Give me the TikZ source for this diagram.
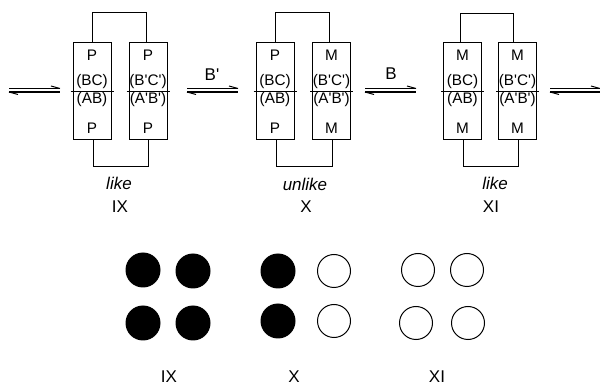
\documentclass[tikz,border=0pt]{standalone}
\usepackage{fontspec}
\setmainfont{Liberation Sans}[Ligatures=TeXOff]
\begin{document}
\begin{tikzpicture}[x=1pt,y=-1pt,
  box/.style={draw,line width=1pt,minimum width=38pt,minimum height=97pt,inner sep=0pt},
  btxt/.style={font=\fontsize{15.3}{17}\selectfont,inner sep=0pt},
  lbl/.style={font=\fontsize{17}{19}\selectfont,inner sep=0pt},
  ilbl/.style={font=\fontsize{17}{19}\selectfont\itshape,inner sep=0pt},
  conn/.style={line width=1pt},
  eqline/.style={line width=1.7pt},
  barb/.style={line width=1.0pt},
  fillc/.style={circle,fill=black,minimum size=35pt,inner sep=0pt},
  openc/.style={circle,draw,line width=1pt,minimum size=33pt,inner sep=0pt}]
\useasboundingbox (0,0) rectangle (600,387);

% equilibrium arrows
\newcommand{\eqarrow}[3]{%
  \coordinate (#3a) at (#1,88.5);
  \coordinate (#3b) at (#2,88.5);
  \coordinate (#3c) at (#1,92);
  \coordinate (#3d) at (#2,92);
  \draw[eqline] (#3a) -- (#3b);
  \draw[barb] (#3b) -- ++(-9,-2.5);
  \draw[eqline] (#3c) -- (#3d);
  \draw[barb] (#3c) -- ++(9,2.5);
}
\eqarrow{9}{60}{ea}
\eqarrow{187}{238}{eb}
\eqarrow{365}{416}{ec}
\eqarrow{550}{600}{ed}
\node[lbl] (Bp) at (212,75) {B'};
\node[lbl] (B) at (391,74) {B};

% unit macro: #1 center x, #2 name, #3 top, #4 bottom, #5 upper middle, #6 lower middle
\newcommand{\unitbox}[6]{%
  \node[box] (#2) at (#1,91.5) {};
  \draw[conn] ([xshift=-2pt]#2.west) -- ([xshift=2pt]#2.east);
  \node[btxt] (#2t) at (#1,55) {#3};
  \node[btxt] (#2u) at (#1,82) {#5};
  \node[btxt] (#2l) at (#1,100) {#6};
  \node[btxt] (#2b) at (#1,128) {#4};
}

% IX
\unitbox{92}{a1}{P}{P}{(BC)}{(AB)}
\unitbox{148}{a2}{P}{P}{(B'C')}{(A'B')}
\draw[conn] (92,43) -- (92,13) -- (146,13) -- (146,43);
\draw[conn] (93,140) -- (93,167) -- (148,167) -- (148,140);
\node[ilbl] (like1) at (119,183) {like};
\node[lbl] (IX) at (120,207) {IX};

% X
\unitbox{275}{b1}{P}{P}{(BC)}{(AB)}
\unitbox{331.5}{b2}{M}{M}{(B'C')}{(A'B')}
\draw[conn] (275,43) -- (275,13) -- (329,13) -- (329,43);
\draw[conn] (276,140) -- (276,167) -- (332,167) -- (332,140);
\node[ilbl] (unlike) at (305,184) {unlike};
\node[lbl] (X) at (306,207) {X};

% XI
\unitbox{462.5}{c1}{M}{M}{(BC)}{(AB)}
\unitbox{517.5}{c2}{M}{M}{(B'C')}{(A'B')}
\draw[conn] (460,43) -- (460,14) -- (513,14) -- (513,43);
\draw[conn] (463,140) -- (463,167) -- (518,167) -- (518,140);
\node[ilbl] (like2) at (495,183) {like};
\node[lbl] (XI) at (491,207) {XI};

% circles
\node[fillc] (d1) at (143,270) {};
\node[fillc] (d2) at (193,271) {};
\node[fillc] (d3) at (143,323) {};
\node[fillc] (d4) at (193,323) {};
\node[fillc] (e1) at (278,271) {};
\node[openc] (e2) at (334,271) {};
\node[fillc] (e3) at (278,321) {};
\node[openc] (e4) at (334,321) {};
\node[openc] (f1) at (418,270) {};
\node[openc] (f2) at (467,270) {};
\node[openc] (f3) at (416,323) {};
\node[openc] (f4) at (468,323) {};
\node[lbl] (IXb) at (169,377) {IX};
\node[lbl] (Xb) at (294,377) {X};
\node[lbl] (XIb) at (437,377) {XI};
\end{tikzpicture}
\end{document}
